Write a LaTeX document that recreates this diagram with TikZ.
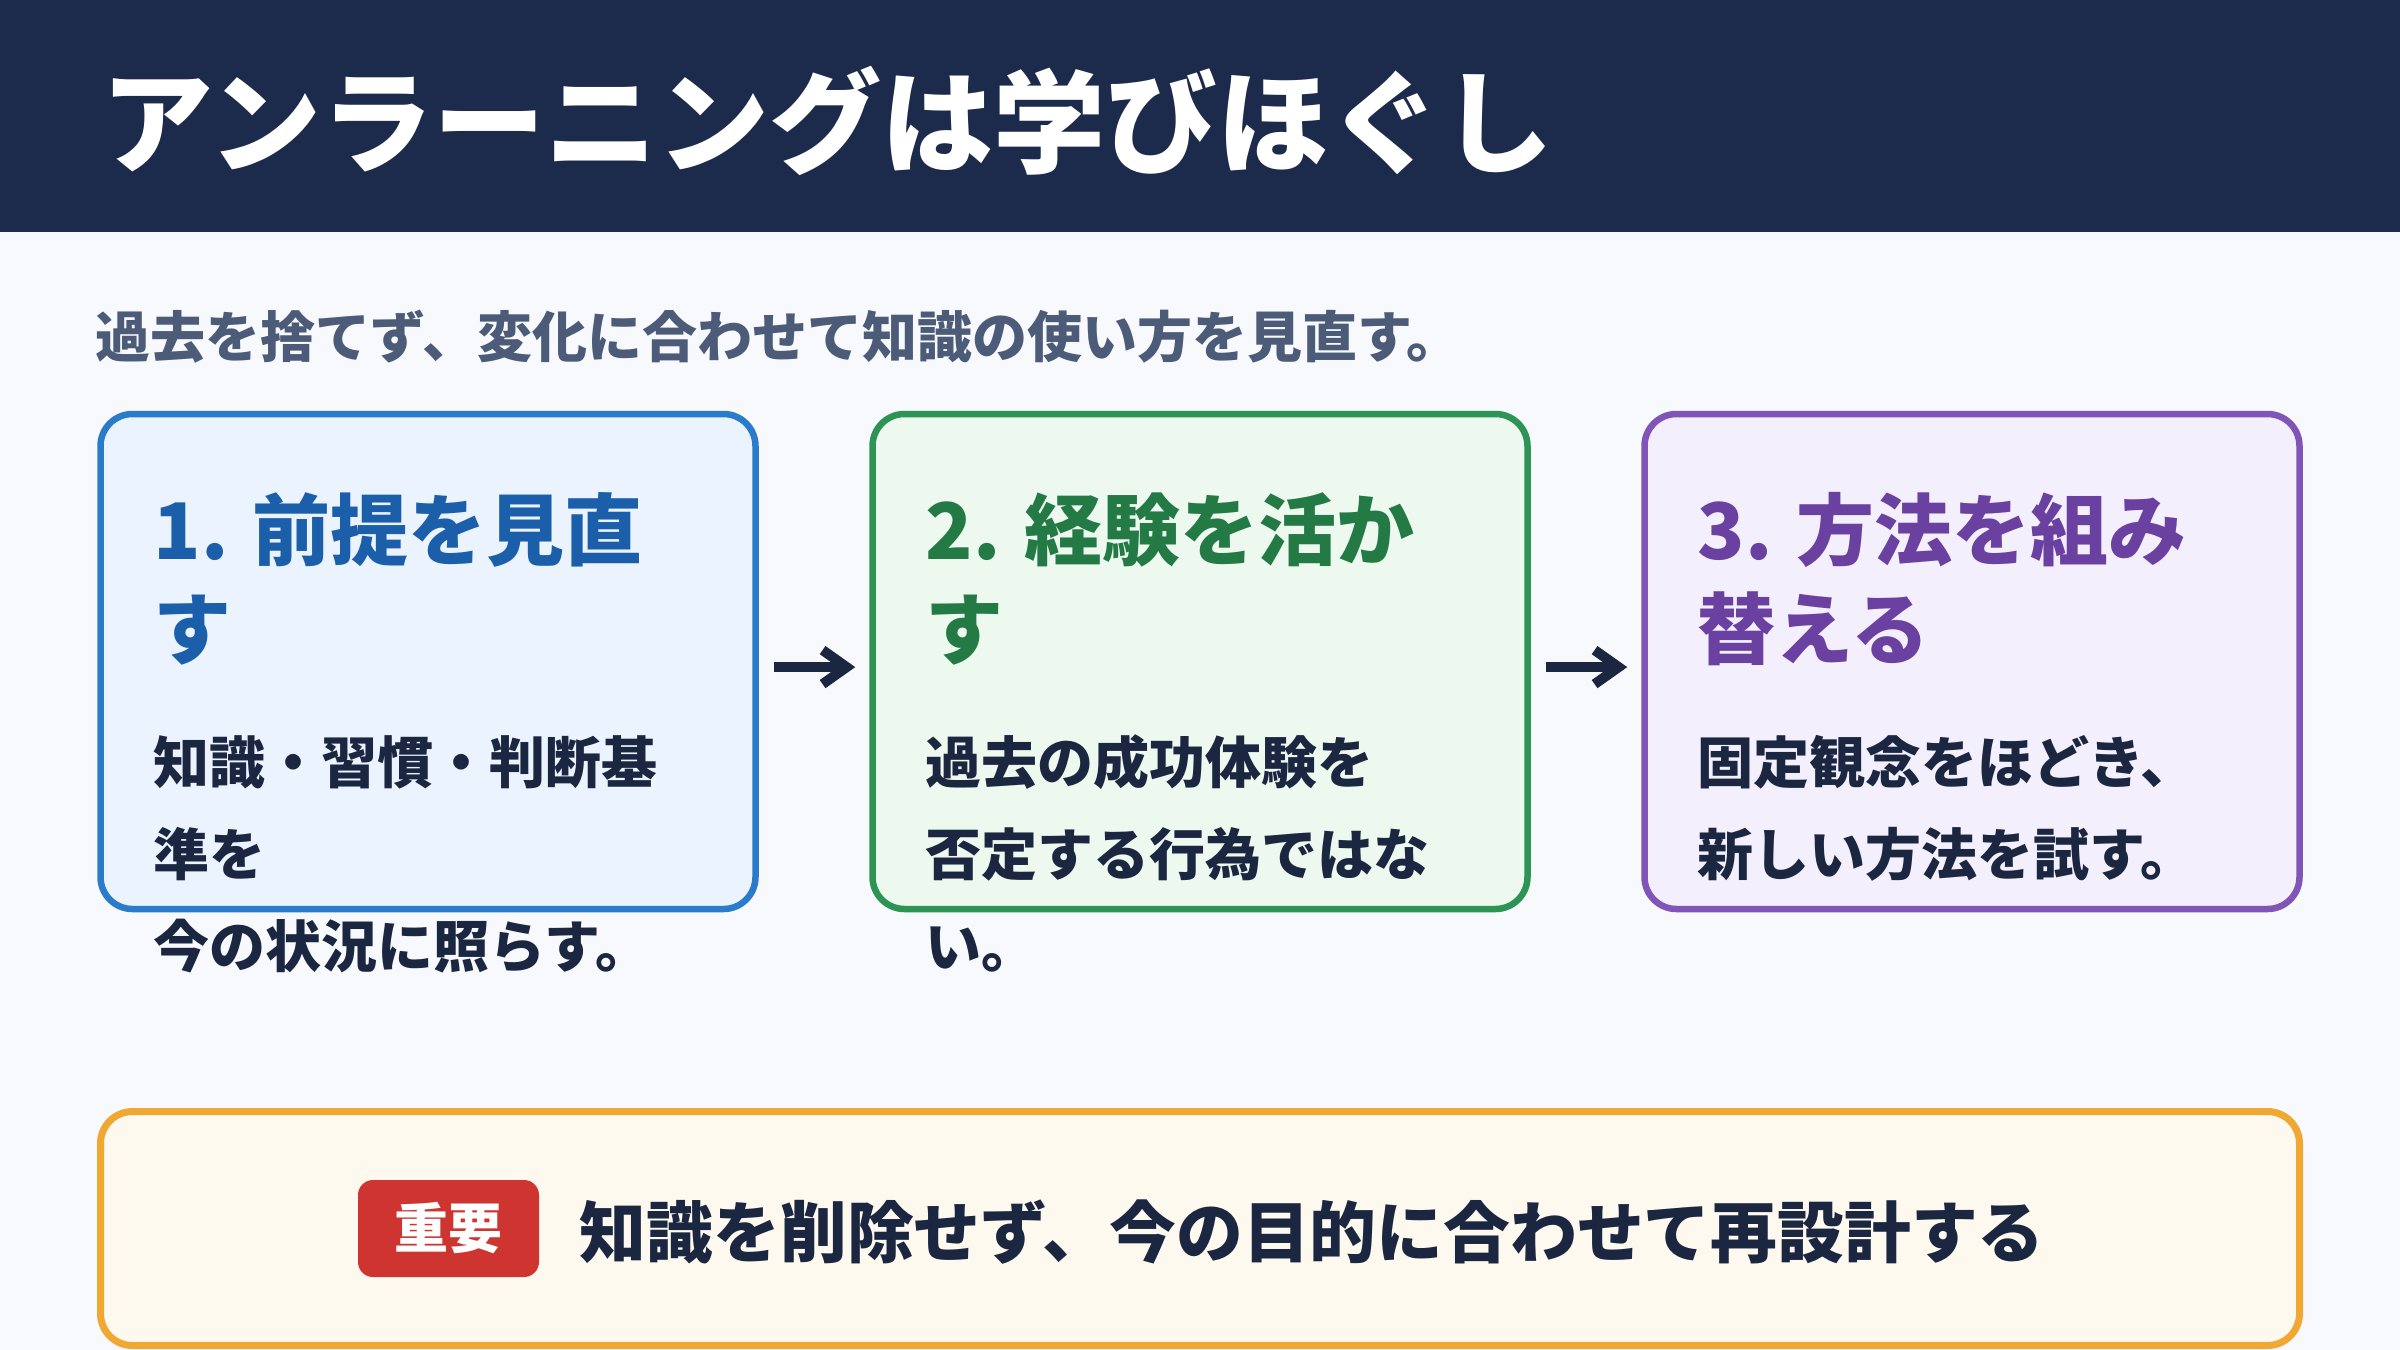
\documentclass[tikz,border=0pt]{standalone}
\usepackage{fontspec}
\setmainfont{Noto Sans CJK JP}
\usetikzlibrary{arrows.meta}
\definecolor{bgc}{HTML}{F7F9FC}
\definecolor{headc}{HTML}{1C2B4B}
\definecolor{subc}{HTML}{4B5B78}
\definecolor{bodyc}{HTML}{1B2641}
\definecolor{blueb}{HTML}{2B7BCB}
\definecolor{bluef}{HTML}{EBF3FE}
\definecolor{bluet}{HTML}{1B5FAA}
\definecolor{greenb}{HTML}{2E9455}
\definecolor{greenf}{HTML}{EDF8EE}
\definecolor{greent}{HTML}{237A45}
\definecolor{purpb}{HTML}{8154B7}
\definecolor{purpf}{HTML}{F3EFFC}
\definecolor{purpt}{HTML}{6A40A0}
\definecolor{orab}{HTML}{F0A832}
\definecolor{oraf}{HTML}{FEF9EF}
\definecolor{redc}{HTML}{CF3530}
\tikzset{
  x=0.25pt, y=-0.25pt,
  stepbox/.style={draw, line width=1.625pt, rounded corners=8pt, minimum width=163.75pt, minimum height=123.75pt, inner sep=0pt},
  boxtitle/.style={anchor=base west, inner sep=0pt, font=\fontsize{19.5}{24}\selectfont\bfseries},
  boxbody/.style={anchor=base west, inner sep=0pt, text=bodyc, font=\fontsize{14}{17}\selectfont\bfseries},
  flow/.style={draw=bodyc, line width=2.5pt, -{Straight Barb[length=6pt, width=8.5pt]}, shorten <=3.75pt, shorten >=3.5pt}
}
\begin{document}
\begin{tikzpicture}
\useasboundingbox (0,0) rectangle (2400,1350);
\fill[bgc] (0,0) rectangle (2400,1350);
\fill[headc] (0,0) rectangle (2400,232);
\node[anchor=west, inner sep=0pt, text=white, font=\fontsize{28}{34}\selectfont\bfseries] (title) at (101,121) {アンラーニングは学びほぐし};
\node[anchor=west, inner sep=0pt, text=subc, font=\fontsize{13.75}{17}\selectfont\bfseries] (sub) at (95,337) {過去を捨てず、変化に合わせて知識の使い方を見直す。};

\node[stepbox, draw=blueb, fill=bluef] (b1) at (428,661.5) {};
\node[stepbox, draw=greenb, fill=greenf] (b2) at (1200,661.5) {};
\node[stepbox, draw=purpb, fill=purpf] (b3) at (1972,661.5) {};

\node[boxtitle, text=bluet] (h1a) at (153,559) {1. 前提を見直};
\node[boxtitle, text=bluet] (h1b) at (153,658) {す};
\node[boxbody] (p1a) at (153,783) {知識・習慣・判断基};
\node[boxbody] (p1b) at (153,875) {準を};
\node[boxbody] (p1c) at (153,967) {今の状況に照らす。};

\node[boxtitle, text=greent] (h2a) at (925,559) {2. 経験を活か};
\node[boxtitle, text=greent] (h2b) at (925,658) {す};
\node[boxbody] (p2a) at (925,783) {過去の成功体験を};
\node[boxbody] (p2b) at (925,875) {否定する行為ではな};
\node[boxbody] (p2c) at (925,967) {い。};

\node[boxtitle, text=purpt] (h3a) at (1697,559) {3. 方法を組み};
\node[boxtitle, text=purpt] (h3b) at (1697,658) {替える};
\node[boxbody] (p3a) at (1697,783) {固定観念をほどき、};
\node[boxbody] (p3b) at (1697,875) {新しい方法を試す。};

\draw[flow] ([yshift=-1.4pt]b1.east) -- ([yshift=-1.4pt]b2.west);
\draw[flow] ([yshift=-1.4pt]b2.east) -- ([yshift=-1.4pt]b3.west);

\node[draw=orab, fill=oraf, line width=1.75pt, rounded corners=8pt, minimum width=549.75pt, minimum height=58.5pt, inner sep=0pt] (note) at (1200,1228.5) {};
\node[fill=redc, rounded corners=3.75pt, minimum width=45.25pt, minimum height=24.25pt, inner sep=0pt, text=white, font=\fontsize{13.5}{16}\selectfont\bfseries] (badge) at (448.5,1228.5) {重要};
\node[anchor=west, inner sep=0pt, text=bodyc, font=\fontsize{16.7}{20}\selectfont\bfseries] (msg) at (579,1232) {知識を削除せず、今の目的に合わせて再設計する};
\end{tikzpicture}
\end{document}
